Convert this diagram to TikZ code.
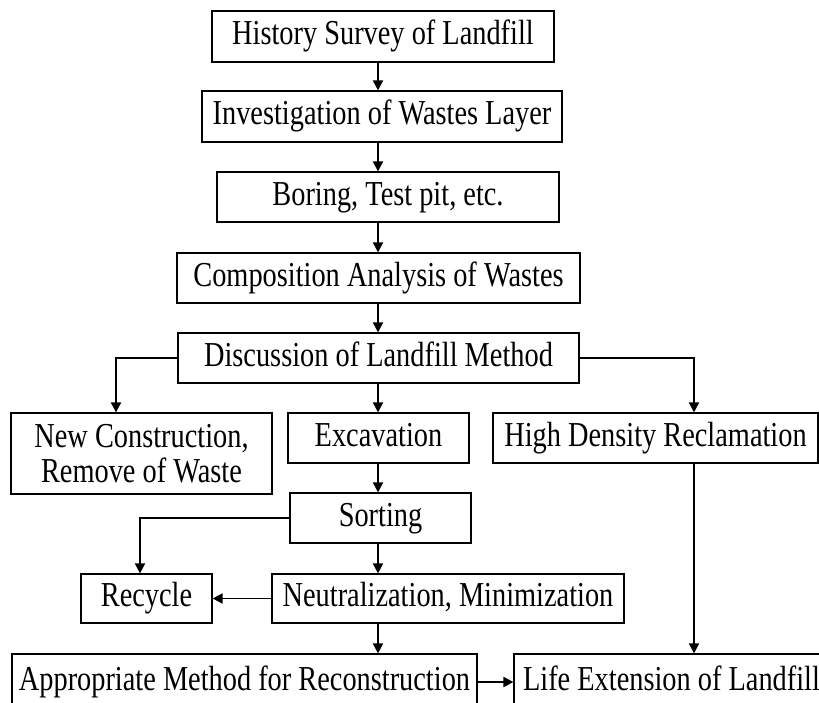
\documentclass[tikz,border=0pt]{standalone}
\usepackage{fontspec}
\setmainfont{Liberation Serif}[FakeStretch=0.81]
\usetikzlibrary{arrows.meta}
\begin{document}
\begin{tikzpicture}[x=1pt,y=-1pt,
  box/.style={draw=black,line width=1.2pt,inner sep=0pt,anchor=center,
    font=\fontsize{35}{35}\selectfont,text height=23pt,text depth=7pt},
  box2/.style={draw=black,line width=1.2pt,inner sep=0pt,anchor=center,
    font=\fontsize{35}{35}\selectfont,align=center},
  arr/.style={line width=1.9pt,-{Triangle[length=10pt,width=10pt]}}]
\useasboundingbox (0,0) rectangle (819,702);
\fill[white] (0,0) rectangle (819,702);
\coordinate (col) at (378,0);
\coordinate (lc) at (116,0);
\coordinate (rc) at (694,0);
\coordinate (sc) at (140,0);
\node[box,minimum width=342pt,minimum height=51pt] (hist) at (383,36.5) {History Survey of Landfill};
\node[box,minimum width=360pt,minimum height=51pt] (inv) at (382,116.5) {Investigation of Wastes Layer};
\node[box,minimum width=342pt,minimum height=50pt] (bor) at (388,197) {Boring, Test pit, etc.};
\node[box,minimum width=403pt,minimum height=50pt] (comp) at (378.5,278) {Composition Analysis of Wastes};
\node[box,minimum width=401pt,minimum height=50pt] (disc) at (378.5,358) {Discussion of Landfill Method};
\node[box2,minimum width=261pt,minimum height=81pt] (newc) at (141.5,453.5) {New Construction,\\Remove of Waste};
\node[box,minimum width=181pt,minimum height=50pt] (exc) at (378.5,438) {Excavation};
\node[box,minimum width=325pt,minimum height=50pt] (high) at (655.5,438) {High Density Reclamation};
\node[box,minimum width=181pt,minimum height=50pt] (sort) at (380.5,518) {Sorting};
\node[box,minimum width=131pt,minimum height=49pt] (rec) at (146.5,598.5) {Recycle};
\node[box,minimum width=352pt,minimum height=49pt] (neut) at (448,598.5) {Neutralization, Minimization};
\node[box,minimum width=465pt,minimum height=56pt] (appr) at (244.5,682) {Appropriate Method for Reconstruction};
\node[box,minimum width=315pt,minimum height=56pt] (life) at (671.5,682) {Life Extension of Landfill};
\draw[arr] (hist.south -| col) -- (inv.north -| col);
\draw[arr] (inv.south -| col) -- (bor.north -| col);
\draw[arr] (bor.south -| col) -- (comp.north -| col);
\draw[arr] (comp.south -| col) -- (disc.north -| col);
\draw[arr] (disc.south -| col) -- (exc.north -| col);
\draw[arr] (exc.south -| col) -- (sort.north -| col);
\draw[arr] (sort.south -| col) -- (neut.north -| col);
\draw[arr] (neut.south -| col) -- (appr.north -| col);
\draw[arr] (disc.west) -| (lc |- newc.north);
\draw[arr] (disc.east) -| (rc |- high.north);
\draw[arr] (sort.west) -| (sc |- rec.north);
\draw[arr] (neut.west) -- (rec.east);
\draw[arr] (rc |- high.south) -- (rc |- life.north);
\draw[arr] (appr.east) -- (life.west);
\end{tikzpicture}
\end{document}
